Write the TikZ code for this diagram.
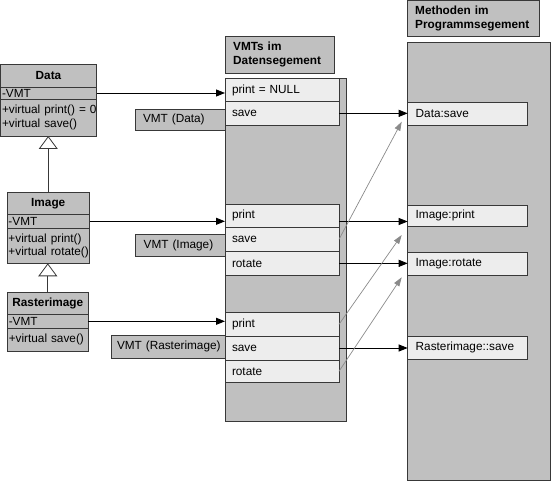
\documentclass[tikz,border=0pt]{standalone}
\usepackage{fontspec}
\setmainfont{Liberation Sans}
\usetikzlibrary{arrows.meta}
\definecolor{panel}{HTML}{C0C0C0}
\definecolor{cell}{HTML}{EDEDED}
\definecolor{edge}{HTML}{383838}
\definecolor{ptr}{HTML}{8A8A8A}
\begin{document}
\begin{tikzpicture}[x=1pt,y=-1pt,
  font=\fontsize{11.8}{13.5}\selectfont,
  frame/.style={draw=edge, line width=0.8pt, anchor=north west, inner ysep=0pt, outer sep=0pt},
  panel/.style={frame, fill=panel},
  cell/.style={frame, fill=cell, inner xsep=7pt, align=left},
  header/.style={panel, inner xsep=7.5pt, align=left,
    font=\fontsize{11.8}{14}\selectfont\bfseries},
  tag/.style={panel, inner xsep=8pt, align=left},
  cls/.style={frame, fill=panel, inner xsep=1.5pt, align=left},
  clsname/.style={cls, align=center, font=\fontsize{11.8}{13.5}\selectfont\bfseries},
  call/.style={-{Triangle[length=9pt,width=7pt]}, line width=0.9pt, black},
  inherited/.style={-{Triangle[length=9pt,width=6pt]}, line width=0.7pt, ptr},
  generalize/.style={-{Triangle[open,length=13pt,width=19pt,fill=white]},
    draw=edge, line width=0.8pt}
]
\useasboundingbox (0,0) rectangle (552,481);

% ---- class hierarchy ----
\node[clsname, text width=93pt, minimum height=23pt] (dname) at (0.5,64) {Data};
\node[cls, text width=93pt, minimum height=12pt] (dattr) at (dname.south west) {-VMT};
\node[cls, text width=93pt, minimum height=37pt] (dops) at (dattr.south west)
  {\mbox{+virtual print() = 0}\\\mbox{+virtual save()}};

\node[clsname, text width=79.5pt, minimum height=22pt] (iname) at (7,192.3) {Image};
\node[cls, text width=79.5pt, minimum height=14pt] (iattr) at (iname.south west) {-VMT};
\node[cls, text width=79.5pt, minimum height=35pt] (iops) at (iattr.south west)
  {\mbox{+virtual print()}\\\mbox{+virtual rotate()}};

\node[clsname, text width=78pt, minimum height=22pt] (rname) at (7.3,292.3) {Rasterimage};
\node[cls, text width=78pt, minimum height=14pt] (rattr) at (rname.south west) {-VMT};
\node[cls, text width=78pt, minimum height=22.7pt] (rops) at (rattr.south west)
  {\mbox{+virtual save()}};

\draw[generalize] (iname.north) -- (iname.north |- dops.south);
\draw[generalize] (rname.north) -- (rname.north |- iops.south);

% ---- virtual method tables ----
\node[header, text width=93.3pt, minimum height=36.3pt] (vhead) at (225.7,36.7)
  {VMTs im\\Datensegement};
\node[panel, minimum width=121.7pt, minimum height=343.4pt] (vcol) at (225,78.3) {};

\node[tag, text width=74.5pt, minimum height=21.7pt] (tdata) at (135,109) {\mbox{VMT (Data)}};
\node[tag, text width=73.3pt, minimum height=22.7pt] (timage) at (135.7,234) {\mbox{VMT (Image)}};
\node[panel, inner xsep=6pt, align=left, text width=102pt, minimum height=23pt]
  (traster) at (111,335) {\mbox{VMT (Rasterimage)}};

\node[cell, text width=100pt, minimum height=23.4pt] (vnull) at (225,78.3) {print = NULL};
\node[cell, text width=100pt, minimum height=23.3pt] (vds) at (vnull.south west) {save};

\node[cell, text width=100pt, minimum height=23pt] (vip) at (225,204) {print};
\node[cell, text width=100pt, minimum height=24.7pt] (vis) at (vip.south west) {save};
\node[cell, text width=100pt, minimum height=23.3pt] (vir) at (vis.south west) {rotate};

\node[cell, text width=100pt, minimum height=23.3pt] (vrp) at (225,312.7) {print};
\node[cell, text width=100pt, minimum height=24pt] (vrs) at (vrp.south west) {save};
\node[cell, text width=100pt, minimum height=22.7pt] (vrr) at (vrs.south west) {rotate};

% ---- method code ----
\node[header, text width=116.3pt, minimum height=36.2pt] (mhead) at (407.7,0.5)
  {Methoden im\\Programmsegement};
\node[panel, minimum width=142.3pt, minimum height=437.3pt] (mcol) at (407.7,42.7) {};

\node[cell, inner xsep=8pt, text width=103.6pt, minimum height=22.7pt] (mds) at (407.7,102.3) {Data:save};
\node[cell, inner xsep=8pt, text width=103.6pt, minimum height=21.7pt] (mip) at (407.7,205) {Image:print};
\node[cell, inner xsep=8pt, text width=103.6pt, minimum height=22.3pt] (mir) at (407.7,252.7) {Image:rotate};
\node[cell, inner xsep=8pt, text width=103.6pt, minimum height=22.3pt] (mrs) at (407.7,336.7) {Rasterimage::save};

% ---- object pointers to their tables ----
\draw[call] (dattr.east) -- (dattr.east -| vnull.west);
\draw[call] (iattr.east) -- (iattr.east -| vip.west);
\draw[call] (rattr.east) -- (rattr.east -| vrp.west);

% ---- table slots to overriding methods ----
\draw[call] (vds.east) -- (vds.east -| mds.west);
\draw[call] ([yshift=-6pt]vip.east) -- ([yshift=-6pt]vip.east -| mip.west);
\draw[call] (vir.east) -- (vir.east -| mir.west);
\draw[call] (vrs.east) -- (vrs.east -| mrs.west);

% ---- inherited slots ----
\draw[inherited] (vis.east) -- ([xshift=-6pt,yshift=3.3pt]mds.south west);
\draw[inherited] (vrp.east) -- ([xshift=-6pt,yshift=-8.3pt]mip.south west);
\draw[inherited] (vrr.east) -- ([xshift=-6pt,yshift=-2.3pt]mir.south west);
\end{tikzpicture}
\end{document}
